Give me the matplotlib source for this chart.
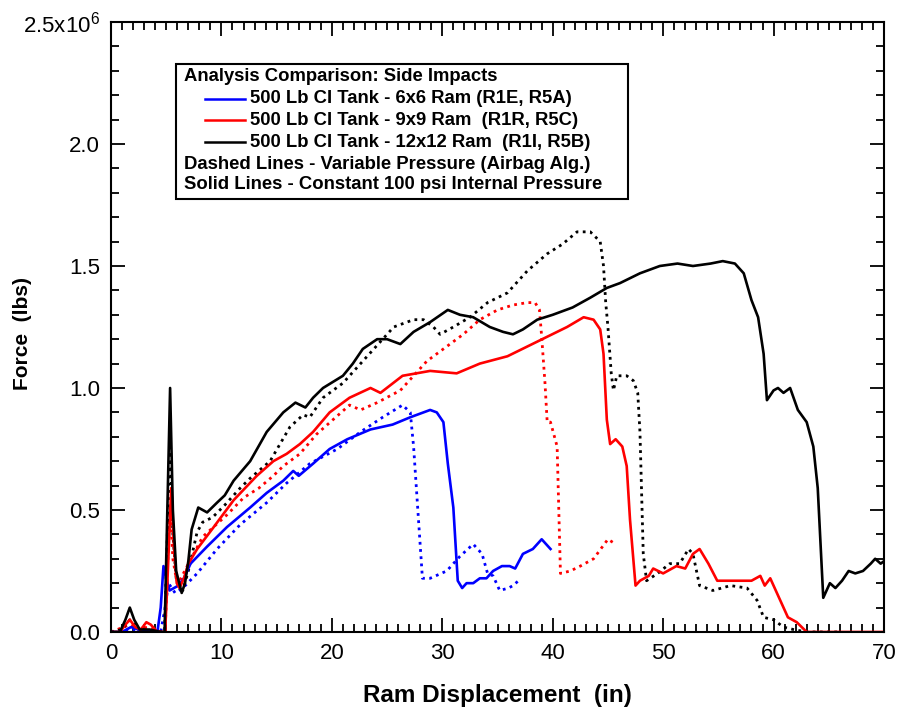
import matplotlib
matplotlib.use("Agg")
import matplotlib.pyplot as plt
from matplotlib.lines import Line2D
from matplotlib.patches import Rectangle
from matplotlib.ticker import MultipleLocator
import numpy as np

plt.rcParams['font.family'] = ['Liberation Sans', 'DejaVu Sans']
plt.rcParams['mathtext.fontset'] = 'custom'
plt.rcParams['mathtext.rm'] = 'Liberation Sans'
plt.rcParams['mathtext.it'] = 'Liberation Sans'

# Force in millions of lbs
# 12x12 Ram, constant 100 psi (solid black)
x_k_solid = [0, 0.8, 1.3, 1.7, 2.1, 2.6, 3.5, 4.5, 4.85, 5.1, 5.35, 5.6, 5.9, 6.4, 6.7, 7.0, 7.3, 7.9, 8.7, 9.6,
             10.3, 11.1, 12.6, 14.1, 15.6, 16.7, 17.6, 18.3, 19.2, 21.0, 21.9, 22.8, 24.1, 25.0, 26.2, 27.4,
             28.9, 30.5, 31.6, 32.8, 34.3, 35.5, 36.4, 37.3, 38.6, 40.0, 41.8, 43.4, 44.9, 46.1, 47.9, 49.7,
             51.3, 52.7, 54.3, 55.4, 56.5, 57.3, 58.0, 58.6, 59.1, 59.4, 60.0, 60.4, 60.9, 61.5, 62.2, 63.0,
             63.6, 64.0, 64.5, 65.1, 65.6, 66.2, 66.8, 67.4, 68.1, 68.8, 69.2, 69.7, 70.0]
f_k_solid = [0, 0, 0.05, 0.10, 0.05, 0.01, 0.01, 0.0, 0.0, 0.5, 1.0, 0.5, 0.25, 0.16, 0.2, 0.29, 0.42, 0.51, 0.49, 0.53,
             0.56, 0.62, 0.70, 0.82, 0.90, 0.94, 0.92, 0.96, 1.00, 1.05, 1.10, 1.16, 1.20, 1.20, 1.18, 1.23,
             1.27, 1.32, 1.30, 1.29, 1.25, 1.23, 1.22, 1.24, 1.28, 1.30, 1.33, 1.37, 1.41, 1.43, 1.47, 1.50,
             1.51, 1.50, 1.51, 1.52, 1.51, 1.47, 1.36, 1.29, 1.14, 0.95, 0.99, 1.00, 0.98, 1.00, 0.91, 0.86,
             0.76, 0.59, 0.14, 0.20, 0.18, 0.21, 0.25, 0.24, 0.25, 0.28, 0.30, 0.28, 0.29]

# 12x12 Ram, variable pressure (dotted black)
x_k_dot = [0, 1.0, 1.7, 2.5, 4.5, 4.85, 5.1, 5.35, 5.6, 5.9, 6.5, 7.0, 7.8, 8.3, 9.2, 10.3, 11.7, 12.6, 14.4,
           16.2, 17.4, 18.0, 19.2, 21.0, 22.6, 24.6, 25.6, 27.4, 28.3, 29.2, 29.8, 31.0, 32.5, 34.1, 35.9,
           37.7, 39.5, 40.9, 42.2, 43.4, 44.3, 44.6, 44.8, 45.0, 45.3, 45.5, 45.8, 46.7, 47.3, 47.7, 47.9,
           48.2, 48.5, 49.5, 50.6, 51.5, 52.3, 52.7, 53.3, 54.5, 56.1, 57.6, 58.5, 59.1, 60.0, 60.9, 61.8,
           63.0, 66.0]
f_k_dot = [0, 0.01, 0.05, 0.01, 0.0, 0.0, 0.4, 0.77, 0.4, 0.22, 0.17, 0.25, 0.41, 0.45, 0.47, 0.52, 0.59, 0.63, 0.70,
           0.84, 0.89, 0.88, 0.96, 1.02, 1.10, 1.20, 1.25, 1.28, 1.28, 1.25, 1.22, 1.25, 1.29, 1.35, 1.39,
           1.48, 1.55, 1.59, 1.64, 1.64, 1.60, 1.50, 1.35, 1.25, 1.06, 0.99, 1.05, 1.05, 1.03, 0.98, 0.82,
           0.32, 0.21, 0.24, 0.28, 0.28, 0.34, 0.32, 0.19, 0.17, 0.19, 0.18, 0.13, 0.06, 0.05, 0.02, 0.01,
           0.0, 0.0]

# 9x9 Ram, constant (solid red)
x_r_solid = [0, 0.8, 1.3, 1.7, 2.2, 2.7, 3.2, 3.6, 4.2, 4.9, 5.1, 5.45, 5.7, 5.95, 6.2, 6.6, 7.0, 7.8, 9.3, 11.1,
             13.2, 14.7, 15.9, 17.1, 18.3, 19.8, 21.6, 23.5, 24.4, 26.4, 28.9, 31.3, 33.4, 35.9, 37.7, 39.5,
             41.3, 42.8, 43.7, 44.3, 44.6, 44.9, 45.2, 45.7, 46.3, 46.7, 47.0, 47.5, 47.9, 48.7, 49.1, 50.0,
             51.2, 52.0, 52.7, 53.3, 54.1, 54.9, 55.9, 57.0, 58.0, 58.8, 59.2, 59.7, 60.6, 61.3, 62.1, 63.0, 70.0]
f_r_solid = [0, 0, 0.03, 0.05, 0.02, 0.01, 0.04, 0.03, 0.0, 0.0, 0.2, 0.59, 0.35, 0.2, 0.18, 0.22, 0.28, 0.34, 0.43,
             0.54, 0.64, 0.70, 0.73, 0.77, 0.82, 0.90, 0.96, 1.00, 0.98, 1.05, 1.07, 1.06, 1.10, 1.13, 1.17,
             1.21, 1.25, 1.29, 1.28, 1.24, 1.14, 0.87, 0.77, 0.79, 0.76, 0.68, 0.46, 0.19, 0.21, 0.23, 0.26,
             0.24, 0.27, 0.26, 0.32, 0.34, 0.28, 0.21, 0.21, 0.21, 0.21, 0.23, 0.19, 0.22, 0.13, 0.06, 0.04,
             0.0, 0.0]

# 9x9 Ram, variable (dotted red)
x_r_dot = [0, 1.7, 2.5, 3.3, 4.5, 4.9, 5.1, 5.35, 5.6, 5.9, 6.1, 6.9, 8.3, 10.5, 12.0, 13.4, 14.7, 15.6, 17.1,
           18.6, 20.1, 21.6, 22.6, 24.1, 26.2, 27.4, 28.6, 30.4, 31.9, 33.4, 35.0, 36.4, 37.7, 38.4, 38.8,
           39.0, 39.3, 39.5, 39.8, 40.4, 40.7, 41.6, 42.5, 43.7, 45.0, 45.7]
f_r_dot = [0, 0.03, 0.01, 0.02, 0.0, 0.0, 0.25, 0.52, 0.3, 0.22, 0.20, 0.27, 0.39, 0.48, 0.55, 0.59, 0.64, 0.68, 0.73,
           0.81, 0.87, 0.93, 0.91, 0.94, 0.99, 1.05, 1.11, 1.17, 1.22, 1.28, 1.32, 1.34, 1.35, 1.35, 1.32,
           1.21, 1.02, 0.86, 0.86, 0.76, 0.24, 0.25, 0.27, 0.30, 0.38, 0.36]

# 6x6 Ram, constant (solid blue)
x_b_solid = [0, 1.0, 1.8, 2.5, 3.5, 4.2, 4.5, 4.75, 5.0, 5.3, 5.7, 6.1, 6.6, 7.2, 8.7, 10.5, 12.6, 14.1, 15.6,
             16.5, 17.0, 18.3, 19.8, 21.4, 23.5, 25.5, 27.1, 28.9, 29.5, 30.1, 30.5, 31.0, 31.4, 31.8, 32.2,
             32.8, 33.4, 34.0, 34.6, 35.4, 36.1, 36.6, 37.3, 38.2, 39.0, 39.8]
f_b_solid = [0, 0.0, 0.02, 0.01, 0.0, 0.0, 0.1, 0.27, 0.22, 0.17, 0.18, 0.19, 0.22, 0.28, 0.35, 0.43, 0.51, 0.57,
             0.62, 0.66, 0.64, 0.69, 0.75, 0.79, 0.83, 0.85, 0.88, 0.91, 0.90, 0.86, 0.69, 0.51, 0.21, 0.18,
             0.20, 0.20, 0.22, 0.22, 0.25, 0.27, 0.27, 0.26, 0.32, 0.34, 0.38, 0.34]

# 6x6 Ram, variable (dotted blue)
x_b_dot = [0, 2.0, 4.5, 4.9, 5.2, 5.8, 6.5, 7.8, 9.6, 11.7, 14.1, 15.9, 18.0, 20.5, 22.6, 24.6, 26.4, 27.1, 27.4,
           27.8, 28.2, 28.9, 30.4, 31.6, 32.8, 33.6, 34.1, 34.6, 35.2, 36.0, 36.4, 36.9]
f_b_dot = [0, 0.01, 0.0, 0.1, 0.2, 0.16, 0.18, 0.24, 0.34, 0.44, 0.53, 0.61, 0.69, 0.75, 0.82, 0.88, 0.93, 0.90,
           0.76, 0.49, 0.22, 0.22, 0.25, 0.31, 0.36, 0.32, 0.24, 0.23, 0.17, 0.18, 0.19, 0.21]

y_ticks = [0.0, 0.5, 1.0, 1.5, 2.0, 2.5]
y_tick_labels = ['0.0', '0.5', '1.0', '1.5', '2.0', '2.5x10$^{6}$']
x_ticks = [0, 10, 20, 30, 40, 50, 60, 70]

legend_title = 'Analysis Comparison: Side Impacts'
legend_entries = ['500 Lb CI Tank - 6x6 Ram (R1E, R5A)',
                  '500 Lb CI Tank - 9x9 Ram  (R1R, R5C)',
                  '500 Lb CI Tank - 12x12 Ram  (R1I, R5B)']
legend_notes = ['Dashed Lines - Variable Pressure (Airbag Alg.)',
                'Solid Lines - Constant 100 psi Internal Pressure']
colors = ['#0000ff', '#ff0000', '#000000']

fig = plt.figure(figsize=(8.99, 7.17), dpi=100)
ax = fig.add_axes([0.1235, 0.1186, 0.8598, 0.8507])

dot_style = (0, (1.0, 1.6))
lw = 1.9
ax.plot(x_b_dot, f_b_dot, color=colors[0], lw=2.0, linestyle=dot_style)
ax.plot(x_r_dot, f_r_dot, color=colors[1], lw=2.0, linestyle=dot_style)
ax.plot(x_k_dot, f_k_dot, color=colors[2], lw=2.0, linestyle=dot_style)
ax.plot(x_b_solid, f_b_solid, color=colors[0], lw=lw)
ax.plot(x_r_solid, f_r_solid, color=colors[1], lw=lw)
ax.plot(x_k_solid, f_k_solid, color=colors[2], lw=lw)

ax.set_xlim(0, 70)
ax.set_ylim(0, 2.5)
ax.set_xticks(x_ticks)
ax.xaxis.set_minor_locator(MultipleLocator(1))
ax.set_yticks(y_ticks)
ax.set_yticklabels(y_tick_labels)
ax.yaxis.set_minor_locator(MultipleLocator(0.1))
ax.tick_params(which='both', direction='in', top=True, right=True, width=1.3)
ax.tick_params(which='major', length=10)
ax.tick_params(which='minor', length=6)
ax.tick_params(axis='y', labelsize=16, pad=8)
ax.tick_params(axis='x', labelsize=16, pad=8)
for s in ax.spines.values():
    s.set_linewidth(1.5)

ax.set_xlabel('Ram Displacement  (in)', fontsize=17.5, fontweight='bold', labelpad=14)
ax.set_ylabel('Force  (lbs)', fontsize=15, fontweight='bold')
ax.yaxis.set_label_coords(-0.102, 0.489)

# legend box
ax.add_patch(Rectangle((0.084, 0.710), 0.585, 0.221, transform=ax.transAxes,
                       fill=False, edgecolor='black', lw=1.5, zorder=5))
ys = [0.910, 0.874, 0.839, 0.803, 0.767, 0.733]
fs = 13.3
ax.text(0.0944, ys[0], legend_title, transform=ax.transAxes, fontsize=fs,
        fontweight='bold', va='center', ha='left')
for i, (lab, c) in enumerate(zip(legend_entries, colors)):
    ax.add_line(Line2D([0.1216, 0.1734], [ys[i + 1], ys[i + 1]], transform=ax.transAxes,
                       color=c, lw=1.8))
    ax.text(0.1798, ys[i + 1], lab, transform=ax.transAxes, fontsize=fs,
            fontweight='bold', va='center', ha='left')
for j, note in enumerate(legend_notes):
    ax.text(0.0944, ys[4 + j], note, transform=ax.transAxes, fontsize=fs,
            fontweight='bold', va='center', ha='left')

fig.savefig('out.png', dpi=100)
